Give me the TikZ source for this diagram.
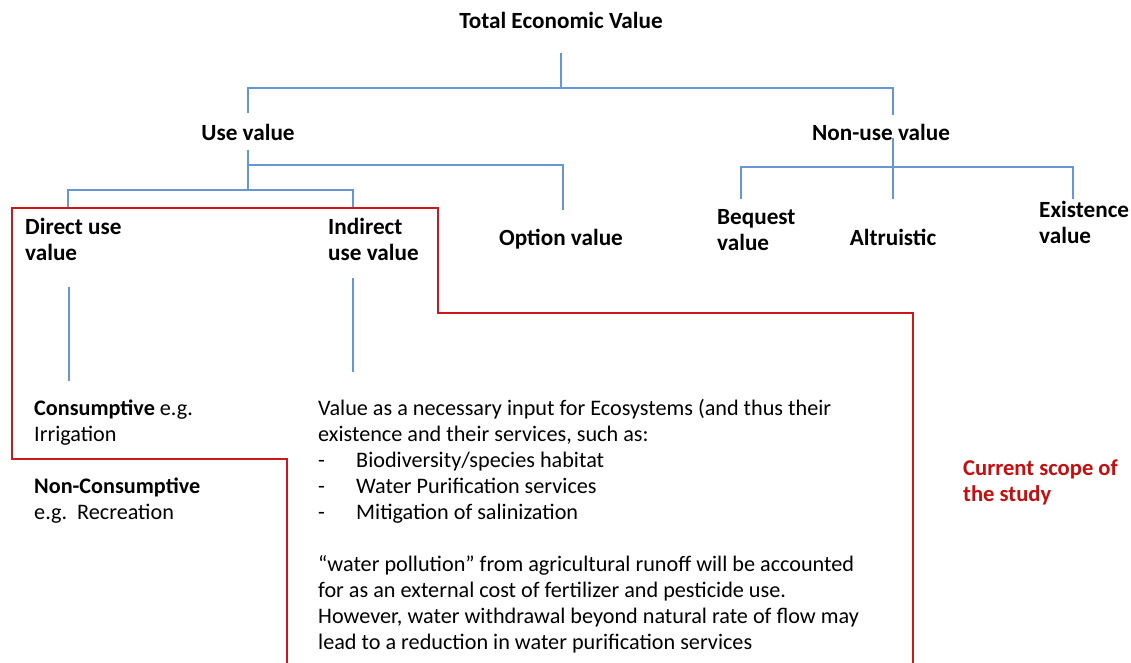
\documentclass[tikz,border=0pt]{standalone}
\usepackage{fontspec}
\setmainfont{Carlito}
\definecolor{BranchClr}{rgb}{0.40,0.59,0.83}
\definecolor{ScopeClr}{rgb}{0.80,0.09,0.11}
\definecolor{NoteClr}{rgb}{0.78,0.05,0.05}

\begin{document}
\begin{tikzpicture}[x=1pt,y=-1pt,
  lbl/.style={font=\fontsize{23.2}{26}\selectfont\bfseries,inner sep=0pt,
    align=left,execute at begin node={\strut}},
  txt/.style={font=\fontsize{22.2}{26}\selectfont,inner sep=0pt,
    align=left,anchor=north west,execute at begin node={\strut}},
  branch/.style={color=BranchClr,line width=1.3pt},
  scope/.style={color=ScopeClr,line width=2.8pt,line join=miter}]
\useasboundingbox (0,0) rectangle (1131,662);

% labels of the tree
\node[lbl,anchor=north] (tev) at (561,10.5) {Total Economic Value};
\node[lbl,anchor=north] (use) at (248,122.5) {Use value};
\node[lbl,anchor=north] (nonuse) at (881,122.5) {Non-use value};
\node[lbl,anchor=north west] (direct) at (25,218.5) {Direct use\\value};
\node[lbl,anchor=north west] (indirect) at (328,218.5) {Indirect\\use value};
\node[lbl,anchor=north] (option) at (561,227.5) {Option value};
\node[lbl,anchor=north west] (bequest) at (717,209.5) {Bequest\\value};
\node[lbl,anchor=north] (altru) at (893,227.5) {Altruistic};
\node[lbl,anchor=north west] (exist) at (1039,201.5) {Existence\\value};

\node[txt] (consum) at (34,399.5) {\textbf{Consumptive} e.g.\\Irrigation};
\node[txt] (noncons) at (34,477.5) {\textbf{Non-Consumptive}\\e.g.\ \ Recreation};
\node[txt] (eco) at (318,399.5) {Value as a necessary input for Ecosystems (and thus their\\
  existence and their services, such as:\\
  \makebox[38pt][l]{-}Biodiversity/species habitat\\
  \makebox[38pt][l]{-}Water Purification services\\
  \makebox[38pt][l]{-}Mitigation of salinization\\[26pt]
  ``water pollution'' from agricultural runoff will be accounted\\
  for as an external cost of fertilizer and pesticide use.\\
  However, water withdrawal beyond natural rate of flow may\\
  lead to a reduction in water purification services};
\node[txt,font=\fontsize{22.6}{26}\selectfont\bfseries,text=NoteClr] (note) at (963,459.5) {Current scope of\\the study};

% branch points
\coordinate (tevB) at (561,53);
\coordinate (tevJ) at (561,88);
\coordinate (useT) at (248,113);
\coordinate (nonT) at (893,115);
\coordinate (useB) at (248,150);
\coordinate (useK) at (248,165);
\coordinate (useJ) at (248,190);
\coordinate (dirT) at (68,208);
\coordinate (indT) at (353,208);
\coordinate (optT) at (563,210);
\coordinate (nonB) at (893,138);
\coordinate (nonJ) at (893,167);
\coordinate (beqT) at (741,199);
\coordinate (altT) at (893,199);
\coordinate (exiT) at (1073,199);
\coordinate (dirB) at (69,287);
\coordinate (conT) at (69,381);
\coordinate (indB) at (353,278);
\coordinate (ecoT) at (353,372);

\draw[branch] (tevB) -- (tevJ);
\draw[branch] (useT) |- (tevJ) -| (nonT);
\draw[branch] (useB) -- (useJ);
\draw[branch] (dirT) |- (useJ) -| (indT);
\draw[branch] (useK) -| (optT);
\draw[branch] (nonB) -- (altT);
\draw[branch] (beqT) |- (nonJ) -| (exiT);
\draw[branch] (dirB) -- (conT);
\draw[branch] (indB) -- (ecoT);

% scope of the study
\draw[scope] (287,668) -- (287,459) -- (12,459) -- (12,208) -- (438,208)
  -- (438,313) -- (913,313) -- (913,668);

\end{tikzpicture}
\end{document}
